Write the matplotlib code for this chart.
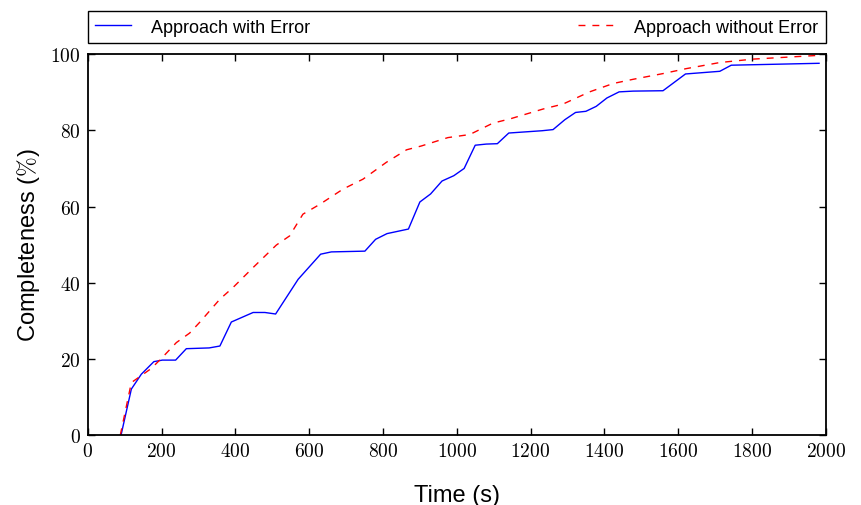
import matplotlib
matplotlib.use("Agg")
import matplotlib.pyplot as plt
from matplotlib.ticker import FuncFormatter

plt.rcParams['mathtext.fontset'] = 'cm'
plt.rcParams['font.family'] = ['Liberation Sans', 'DejaVu Sans']

# Approach with error (blue, solid)
t_err = [90, 118, 145, 179, 202, 238, 267, 329, 358, 389, 448, 480, 509, 570,
         631, 660, 751, 780, 811, 869, 900, 929, 960, 992, 1020, 1050, 1080,
         1110, 1141, 1231, 1261, 1293, 1322, 1350, 1378, 1407, 1440, 1478,
         1559, 1620, 1713, 1744, 1982]
c_err = [0, 12.1, 16.0, 19.3, 19.7, 19.7, 22.7, 22.9, 23.4, 29.7, 32.2, 32.2,
         31.8, 40.9, 47.5, 48.1, 48.3, 51.4, 52.9, 54.1, 61.2, 63.3, 66.7,
         68.1, 70.0, 76.1, 76.4, 76.5, 79.3, 79.9, 80.2, 82.8, 84.7, 85.0,
         86.3, 88.5, 90.1, 90.3, 90.4, 94.8, 95.5, 97.1, 97.6]

# Approach without error (red, dashed)
t_ok = [88, 118, 172, 202, 240, 276, 303, 358, 394, 448, 511, 547, 583, 629,
        692, 746, 809, 864, 904, 976, 1035, 1098, 1144, 1234, 1288, 1360,
        1424, 1478, 1559, 1622, 1713, 1803, 1984]
c_ok = [0, 13.8, 17.5, 20.4, 24.3, 26.8, 29.6, 35.7, 38.8, 44.0, 49.9, 52.3,
        58.0, 60.6, 64.6, 67.2, 71.6, 74.9, 75.9, 78.1, 78.9, 81.9, 83.0,
        85.6, 86.9, 90.1, 92.3, 93.4, 94.9, 96.2, 97.8, 98.7, 99.7]

x_ticks = list(range(0, 2001, 200))
y_ticks = list(range(0, 101, 20))

fig = plt.figure(figsize=(8.61, 5.06), dpi=100)
ax = fig.add_axes([0.102, 0.138, 0.857, 0.753])

ax.plot(t_err, c_err, color='blue', lw=1.0, label='Approach with Error')
ax.plot(t_ok, c_ok, color='red', lw=1.0, ls='--', dashes=(5, 5),
        label='Approach without Error')

ax.set_xlim(0, 2000)
ax.set_ylim(0, 100)
ax.set_xticks(x_ticks)
ax.set_yticks(y_ticks)
fmt = FuncFormatter(lambda v, p: r'$%d$' % v)
ax.xaxis.set_major_formatter(fmt)
ax.yaxis.set_major_formatter(fmt)
ax.tick_params(direction='in', top=True, right=True, length=5, width=1,
               labelsize=14, pad=5)
for s in ax.spines.values():
    s.set_linewidth(1.3)

ax.set_xlabel('Time (s)', fontsize=17, labelpad=17)
ax.set_ylabel(r'Completeness ($\%$)', fontsize=17, labelpad=6)

ax.legend(loc='lower left', bbox_to_anchor=(0, 1.03, 1, 0.1), ncol=2,
          mode='expand', borderaxespad=0, fontsize=13, fancybox=False,
          edgecolor='black', framealpha=1, handlelength=2.0,
          handletextpad=1.1, borderpad=0.4)

fig.savefig('out.png', dpi=100)
